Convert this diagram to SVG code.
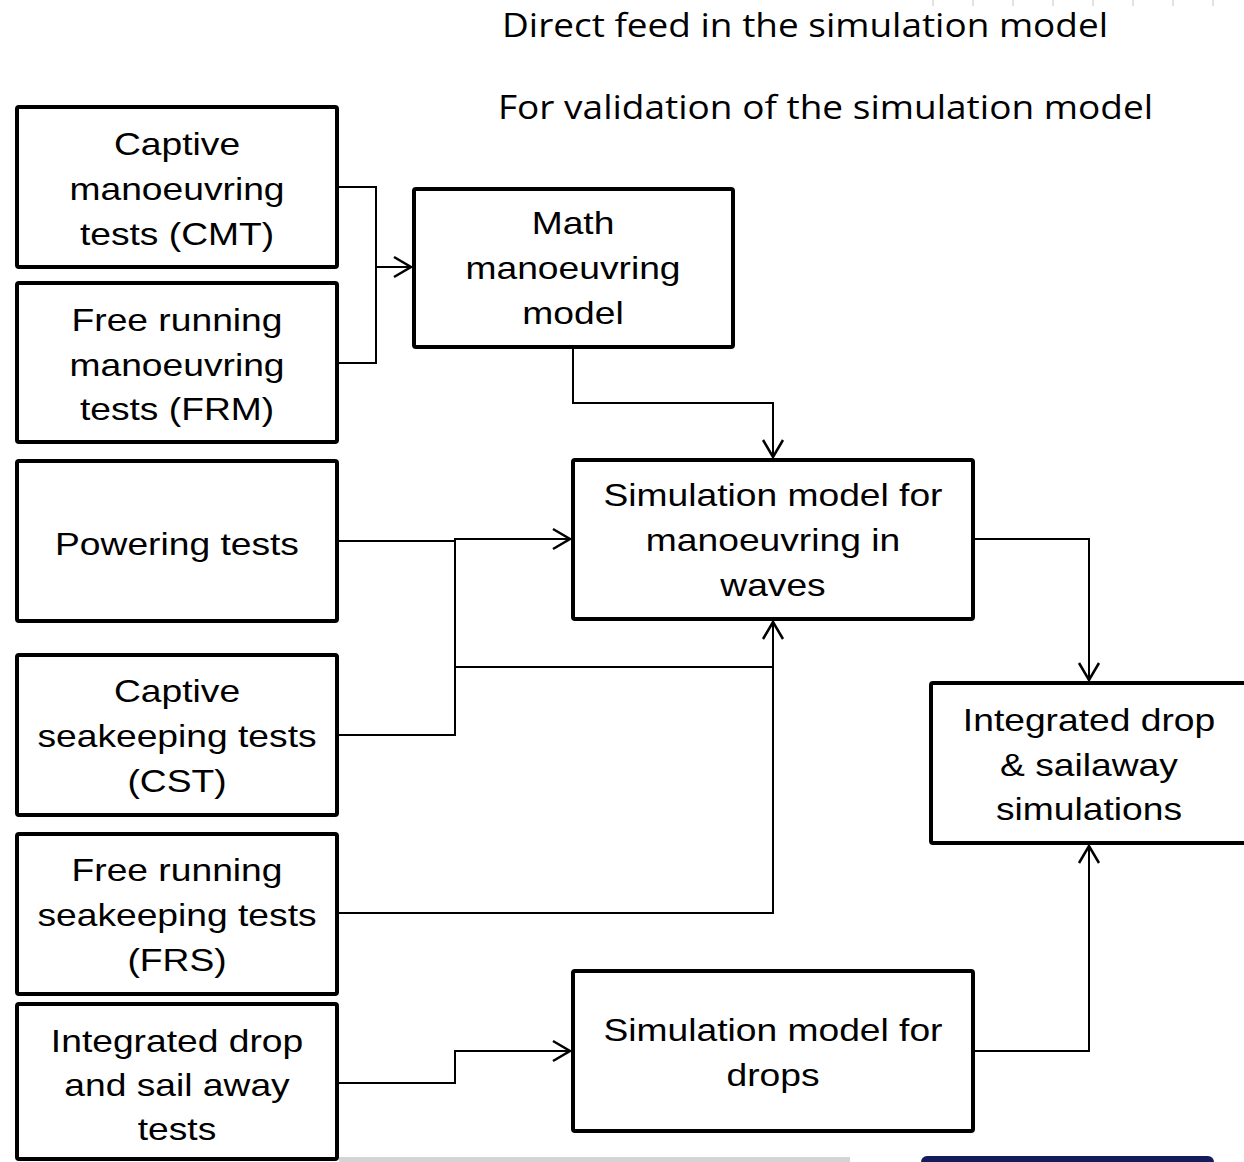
<svg xmlns="http://www.w3.org/2000/svg" width="1244" height="1162" viewBox="0 0 1244 1162">
<style>
.box{fill:#fff;stroke:#000;stroke-width:4;}
.lbl{font-family:"Liberation Sans",Arial,sans-serif;font-size:31px;fill:#000;text-anchor:middle;}
.hdr{font-family:"Open Sans","Noto Sans",sans-serif;font-size:32px;fill:#000;}
.con{fill:none;stroke:#000;stroke-width:2;}
.tick{stroke:#e2e2e2;stroke-width:2;}
</style>
<defs>
<marker id="arr" viewBox="-20 -12 24 24" refX="0" refY="0" markerWidth="24" markerHeight="24" markerUnits="userSpaceOnUse" orient="auto">
<path d="M-17,-10 L0,0 L-17,10" fill="none" stroke="#000" stroke-width="2.5"/>
</marker>
</defs>
<rect width="1244" height="1162" fill="#fff"/>
<g id="ticks">
<line class="tick" x1="933" y1="0" x2="933" y2="6"/>
<line class="tick" x1="973" y1="0" x2="973" y2="6"/>
<line class="tick" x1="1013" y1="0" x2="1013" y2="6"/>
<line class="tick" x1="1053" y1="0" x2="1053" y2="6"/>
<line class="tick" x1="1093" y1="0" x2="1093" y2="6"/>
<line class="tick" x1="1133" y1="0" x2="1133" y2="6"/>
<line class="tick" x1="1173" y1="0" x2="1173" y2="6"/>
<line class="tick" x1="1213" y1="0" x2="1213" y2="6"/>
</g>
<g id="legend">
<text class="hdr" x="502" y="37" textLength="606" lengthAdjust="spacingAndGlyphs">Direct feed in the simulation model</text>
<text class="hdr" x="498" y="119" textLength="655" lengthAdjust="spacingAndGlyphs">For validation of the simulation model</text>
</g>
<g id="connectors">
<path class="con" d="M339,187 H376 V363 H339"/>
<path class="con" d="M376,267 H411" marker-end="url(#arr)"/>
<path class="con" d="M573,349 V403 H773 V457" marker-end="url(#arr)"/>
<path class="con" d="M339,541 H455 V539 H570" marker-end="url(#arr)"/>
<path class="con" d="M339,735 H455 V539"/>
<path class="con" d="M455,667 H773"/>
<path class="con" d="M339,913 H773 V622" marker-end="url(#arr)"/>
<path class="con" d="M339,1083 H455 V1051 H570" marker-end="url(#arr)"/>
<path class="con" d="M975,539 H1089 V680" marker-end="url(#arr)"/>
<path class="con" d="M975,1051 H1089 V846" marker-end="url(#arr)"/>
</g>
<g id="cmt">
<rect class="box" x="17" y="107" width="320" height="160" rx="2"/>
<g transform="translate(177,0) scale(1.2,1)"><text class="lbl" x="0" y="155">Captive</text><text class="lbl" x="0" y="200">manoeuvring</text><text class="lbl" x="0" y="245">tests (CMT)</text></g>
</g>
<g id="frm">
<rect class="box" x="17" y="283" width="320" height="159" rx="2"/>
<g transform="translate(177,0) scale(1.2,1)"><text class="lbl" x="0" y="331">Free running</text><text class="lbl" x="0" y="376">manoeuvring</text><text class="lbl" x="0" y="420">tests (FRM)</text></g>
</g>
<g id="powering">
<rect class="box" x="17" y="461" width="320" height="160" rx="2"/>
<g transform="translate(177,0) scale(1.2,1)"><text class="lbl" x="0" y="555">Powering tests</text></g>
</g>
<g id="cst">
<rect class="box" x="17" y="655" width="320" height="160" rx="2"/>
<g transform="translate(177,0) scale(1.2,1)"><text class="lbl" x="0" y="702">Captive</text><text class="lbl" x="0" y="747">seakeeping tests</text><text class="lbl" x="0" y="792">(CST)</text></g>
</g>
<g id="frs">
<rect class="box" x="17" y="834" width="320" height="160" rx="2"/>
<g transform="translate(177,0) scale(1.2,1)"><text class="lbl" x="0" y="881">Free running</text><text class="lbl" x="0" y="926">seakeeping tests</text><text class="lbl" x="0" y="971">(FRS)</text></g>
</g>
<g id="idt">
<rect class="box" x="17" y="1004" width="320" height="155" rx="2"/>
<g transform="translate(177,0) scale(1.2,1)"><text class="lbl" x="0" y="1052">Integrated drop</text><text class="lbl" x="0" y="1096">and sail away</text><text class="lbl" x="0" y="1140">tests</text></g>
</g>
<g id="math">
<rect class="box" x="414" y="189" width="319" height="158" rx="2"/>
<g transform="translate(573,0) scale(1.2,1)"><text class="lbl" x="0" y="234">Math</text><text class="lbl" x="0" y="279">manoeuvring</text><text class="lbl" x="0" y="324">model</text></g>
</g>
<g id="simwaves">
<rect class="box" x="573" y="460" width="400" height="159" rx="2"/>
<g transform="translate(773,0) scale(1.2,1)"><text class="lbl" x="0" y="506">Simulation model for</text><text class="lbl" x="0" y="551">manoeuvring in</text><text class="lbl" x="0" y="596">waves</text></g>
</g>
<g id="simdrops">
<rect class="box" x="573" y="971" width="400" height="160" rx="2"/>
<g transform="translate(773,0) scale(1.2,1)"><text class="lbl" x="0" y="1041">Simulation model for</text><text class="lbl" x="0" y="1086">drops</text></g>
</g>
<g id="idsim">
<rect class="box" x="931" y="683" width="330" height="160" rx="2"/>
<g transform="translate(1089,0) scale(1.2,1)"><text class="lbl" x="0" y="731">Integrated drop</text><text class="lbl" x="0" y="776">&amp; sailaway</text><text class="lbl" x="0" y="820">simulations</text></g>
</g>
<g id="footer">
<rect x="339" y="1157" width="511" height="5" fill="#d4d4d4"/>
<rect x="921" y="1156" width="293" height="20" rx="6" fill="#141c5c"/>
</g>
</svg>
